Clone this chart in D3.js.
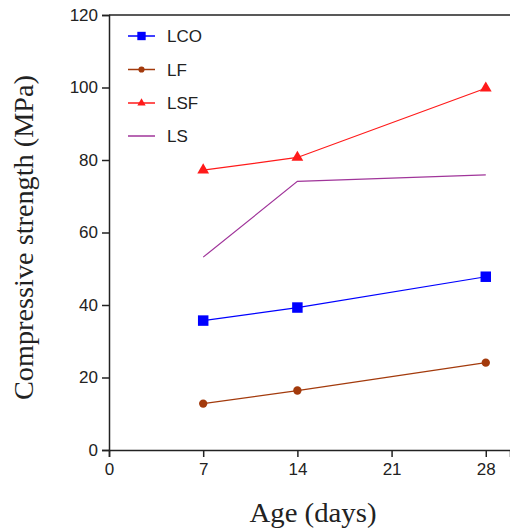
<!DOCTYPE html>
<html>
<head>
  <meta charset='utf-8'>
  <script src="https://d3js.org/d3.v7.min.js"></script>
  <style>
    body { margin: 0; background: #fff; }
    .tick text { font-family: 'Liberation Sans', Arial, sans-serif; font-size: 17px; fill: #222; }
    .tick line, .domain { stroke: #222; stroke-width: 1.5px; }
  </style>
</head>
<body>
<script>
  // data
  var ages = [7, 14, 28];
  var lco = [35.7, 39.3, 47.8];
  var lf = [12.8, 16.4, 24.1];
  var lsf = [77.2, 80.7, 99.8];
  var ls = [53.2, 74.1, 75.9];
  var xTicks = [0, 7, 14, 21, 28];
  var yTicks = [0, 20, 40, 60, 80, 100, 120];

  var series = [
    {name: 'LCO', values: lco, color: '#0000ff', marker: 'square'},
    {name: 'LF', values: lf, color: '#a33a0c', marker: 'circle'},
    {name: 'LSF', values: lsf, color: '#ff1a1a', marker: 'triangle'},
    {name: 'LS', values: ls, color: '#a0359a', marker: null}
  ];

  var width = 510, height = 529;
  var svg = d3.select('body').append('svg')
    .attr('width', width).attr('height', height);

  // scales
  var x = d3.scaleLinear().domain([0, 29.8]).range([109, 510]);
  var y = d3.scaleLinear().domain([0, 120]).range([450, 15]);

  // axes
  svg.append('g')
    .attr('transform', 'translate(0,' + y(0) + ')')
    .call(d3.axisBottom(x).tickValues(xTicks).tickSizeOuter(0).tickSize(7).tickPadding(6));
  svg.append('g')
    .attr('transform', 'translate(' + x(0) + ',0)')
    .call(d3.axisLeft(y).tickValues(yTicks).tickSizeOuter(0).tickSize(7).tickPadding(4));

  // top border
  svg.append('line')
    .attr('x1', x(0)).attr('x2', 510)
    .attr('y1', y(120)).attr('y2', y(120))
    .attr('stroke', '#222').attr('stroke-width', 1.5);

  // lines and markers
  var line = d3.line().x(function(d) { return x(d[0]); }).y(function(d) { return y(d[1]); });
  var symbolFor = {
    square: d3.symbol().type(d3.symbolSquare).size(110),
    circle: d3.symbol().type(d3.symbolCircle).size(55),
    triangle: d3.symbol().type(d3.symbolTriangle).size(60)
  };

  series.forEach(function(s) {
    var pts = ages.map(function(a, i) { return [a, s.values[i]]; });
    svg.append('path')
      .attr('d', line(pts))
      .attr('fill', 'none')
      .attr('stroke', s.color)
      .attr('stroke-width', 1.2);
    if (s.marker) {
      svg.selectAll(null).data(pts).enter().append('path')
        .attr('d', symbolFor[s.marker]())
        .attr('transform', function(d) { return 'translate(' + x(d[0]) + ',' + y(d[1]) + ')'; })
        .attr('fill', s.color);
    }
  });

  // legend
  var legendSymbol = {
    square: d3.symbol().type(d3.symbolSquare).size(70),
    circle: d3.symbol().type(d3.symbolCircle).size(30),
    triangle: d3.symbol().type(d3.symbolTriangle).size(30)
  };
  var legendY = [36, 69.5, 103, 136];
  series.forEach(function(s, i) {
    var g = svg.append('g').attr('transform', 'translate(0,' + legendY[i] + ')');
    g.append('line').attr('x1', 128).attr('x2', 155).attr('y1', 0).attr('y2', 0)
      .attr('stroke', s.color).attr('stroke-width', 1.5);
    if (s.marker) {
      g.append('path').attr('d', legendSymbol[s.marker]())
        .attr('transform', 'translate(141.5,0)').attr('fill', s.color);
    }
    g.append('text').attr('x', 167).attr('y', 6)
      .style('font-family', "'Liberation Sans', Arial, sans-serif")
      .style('font-size', '17px').style('fill', '#222')
      .text(s.name);
  });

  // axis titles
  svg.append('text')
    .attr('x', 313).attr('y', 522)
    .attr('text-anchor', 'middle')
    .attr('textLength', 127).attr('lengthAdjust', 'spacingAndGlyphs')
    .style('font-family', "'Liberation Serif', 'Times New Roman', serif")
    .style('font-size', '27px').style('fill', '#222')
    .text('Age (days)');
  svg.append('text')
    .attr('transform', 'translate(33,237.5) rotate(-90)')
    .attr('text-anchor', 'middle')
    .attr('textLength', 325).attr('lengthAdjust', 'spacingAndGlyphs')
    .style('font-family', "'Liberation Serif', 'Times New Roman', serif")
    .style('font-size', '27px').style('fill', '#222')
    .text('Compressive strength (MPa)');
</script>
</body>
</html>
